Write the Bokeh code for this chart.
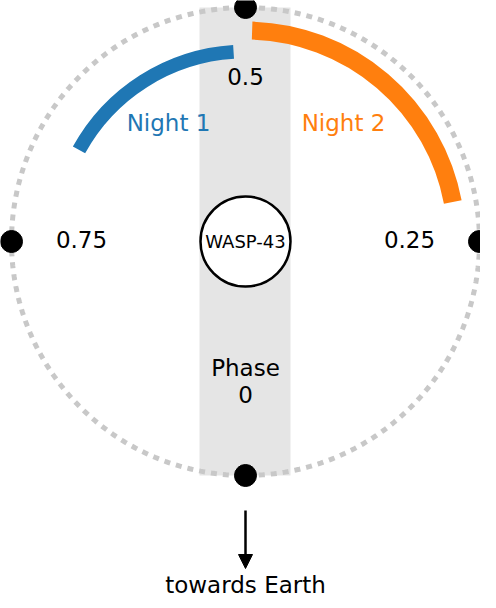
import numpy as np
from bokeh.plotting import figure
from bokeh.models import Arrow, NormalHead
from bokeh.core.properties import value
from bokeh.embed import file_html
from bokeh.resources import INLINE

# orbital phase markers and labels
phase_ticks = [0.0, 0.25, 0.5, 0.75]
phase_labels = ["Phase\n0", "0.25", "0.5", "0.75"]
# observed phase ranges
night_names = ["Night 1", "Night 2"]
night_start = [0.51, 0.28]
night_end = [0.67, 0.495]
night_colors = ["#1f77b4", "#ff7f0e"]

FONT = value("DejaVu Sans")

def ang(ph):
    return np.deg2rad(-90 + 360 * np.asarray(ph))

S = 234.0
p = figure(width=480, height=598, output_backend="svg", toolbar_location=None,
           x_range=(-245 / S, 235 / S), y_range=(-357 / S, 241 / S),
           min_border=0)
p.axis.visible = False
p.grid.visible = False
p.outline_line_color = None

# grey band
p.quad(left=-46 / S, right=45 / S, bottom=-1.0, top=1.0, fill_color="#e5e5e5", line_color=None)

# dotted orbit
t = np.linspace(0, 2 * np.pi, 400)
p.line(np.cos(t), np.sin(t), line_color="#c8c8c8", line_width=5, line_dash="6 6")

# night arcs
radii = [190 / S, 211 / S]
widths = [14, 18]
for i in range(2):
    p.arc(0, 0, radius=radii[i], start_angle=ang(night_start[i]), end_angle=ang(night_end[i]),
          direction="anticlock" if night_start[i] < night_end[i] else "clock",
          line_color=night_colors[i], line_width=widths[i])

# phase dots
a = ang(phase_ticks)
p.scatter(np.cos(a), np.sin(a), size=22, color="black")

# phase labels
lx = [0, 164 / S, 0, -164 / S]
ly = [-140 / S, 2 / S, 165 / S, 2 / S]
for x, y, s in zip(lx, ly, phase_labels):
    p.text([x], [y], text=[s], text_align="center", text_baseline="middle",
           text_font_size="23px", text_font=FONT, text_color="black", text_line_height=1.05)

# night labels
p.text([-77 / S, 98 / S], [119 / S, 119 / S], text=night_names, text_align="center",
       text_baseline="middle", text_font_size="23px", text_font=FONT,
       text_color=night_colors)

# star
p.circle(0, 0, radius=45 / S, fill_color="white", line_color="black", line_width=2.5)
p.text([0], [0], text=["WASP-43"], text_align="center", text_baseline="middle",
       text_font_size="18px", text_font=FONT, text_color="black")

# arrow towards Earth
p.add_layout(Arrow(end=NormalHead(size=14, fill_color="black", line_color="black"),
                   x_start=0, y_start=-269 / S, x_end=0, y_end=-327 / S,
                   line_width=2.5, line_color="black"))
p.text([0], [-343 / S], text=["towards Earth"], text_align="center", text_baseline="middle",
       text_font_size="23px", text_font=FONT, text_color="black")

open("out.html", "w").write(file_html(p, INLINE))
